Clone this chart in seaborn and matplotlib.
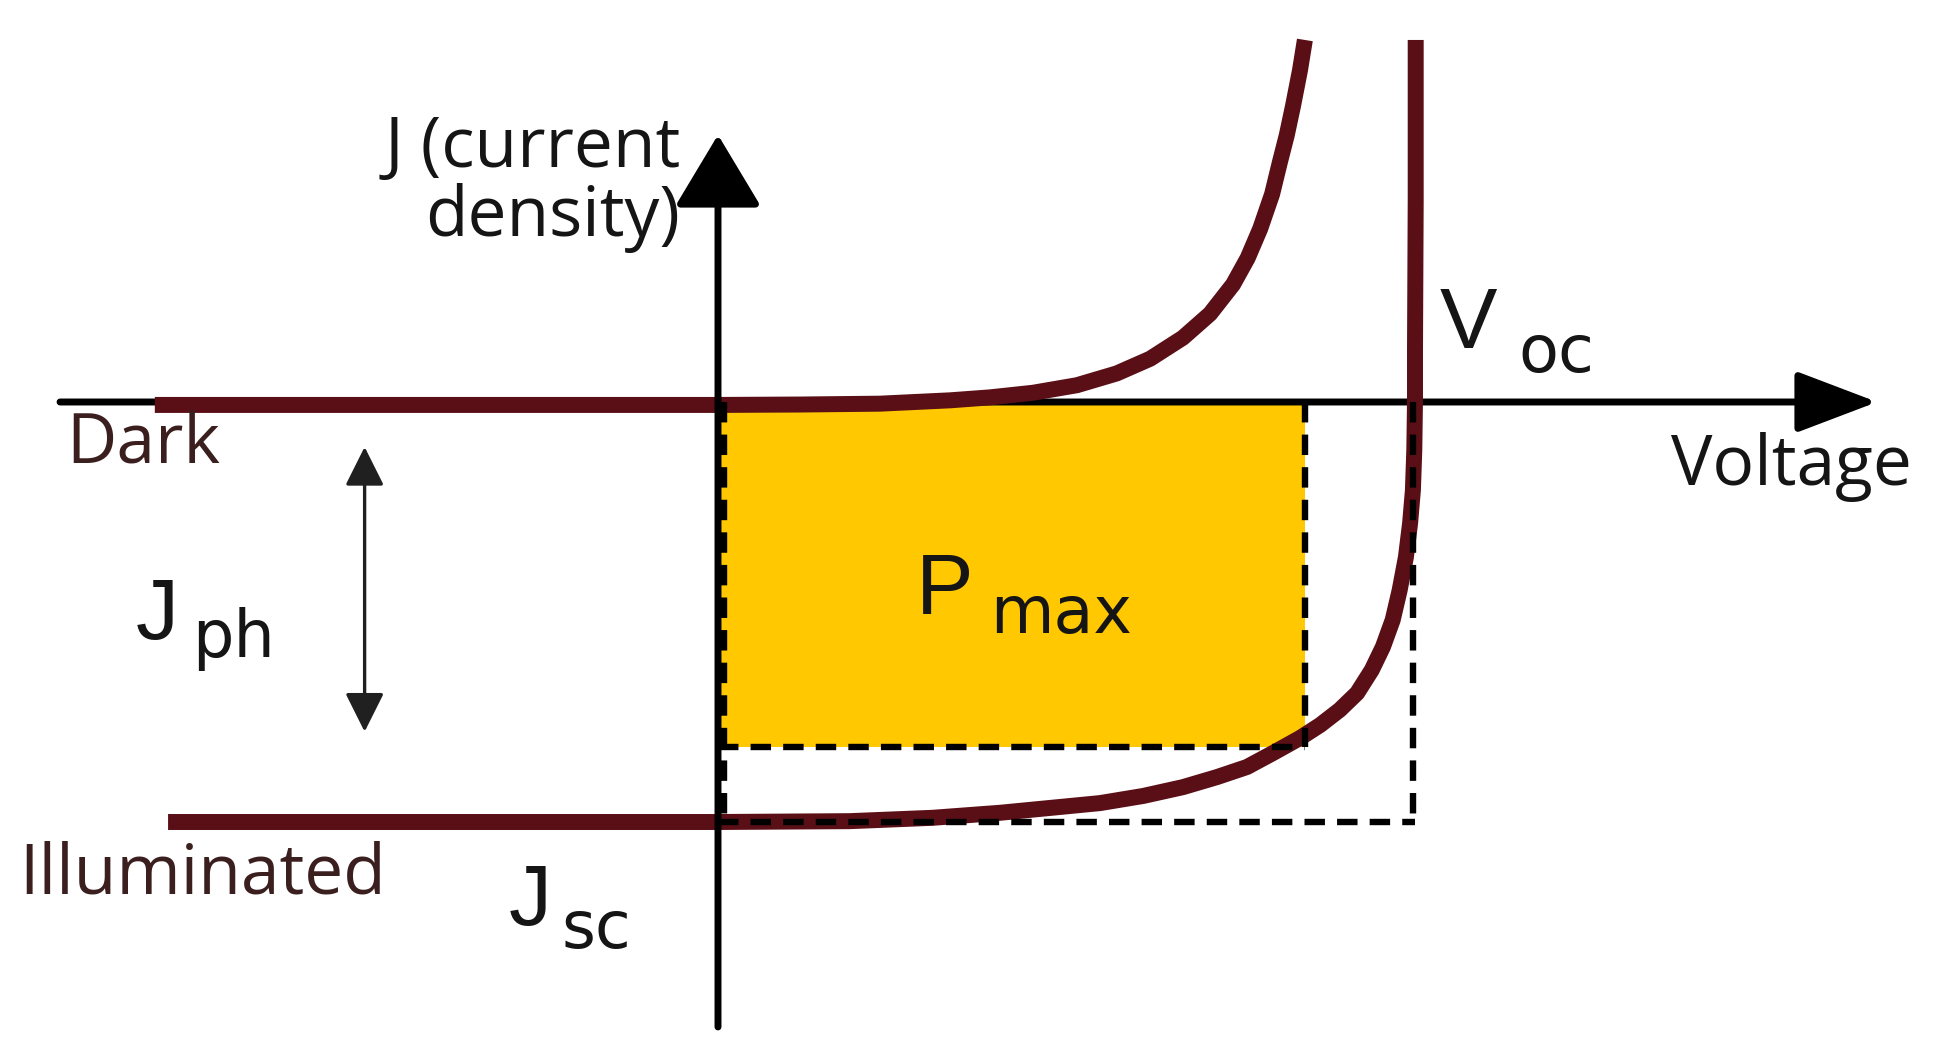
import numpy as np
import pandas as pd
import matplotlib
matplotlib.use("Agg")
import matplotlib.pyplot as plt
import seaborn as sns

# ---------------- data (schematic units: V/Voc, J/|Jsc|) ----------------
dark_v = [-0.808, 0.0, 0.118, 0.232, 0.333, 0.390, 0.452, 0.515, 0.572, 0.620,
          0.667, 0.706, 0.739, 0.760, 0.778, 0.795, 0.806, 0.816, 0.825, 0.835, 0.842]
dark_j = [-0.007, -0.007, -0.006, -0.004, 0.004, 0.011, 0.022, 0.040, 0.068, 0.103,
          0.153, 0.210, 0.280, 0.343, 0.413, 0.495, 0.570, 0.635, 0.705, 0.790, 0.862]

illum_v = [-0.789, 0.0, 0.189, 0.308, 0.405, 0.548, 0.610, 0.667, 0.716, 0.759,
           0.796, 0.835, 0.864, 0.892, 0.917, 0.938, 0.954, 0.968, 0.978, 0.987,
           0.993, 0.997, 0.999, 1.0, 1.0, 1.001, 1.001]
illum_j = [-1.0, -1.0, -0.998, -0.990, -0.978, -0.955, -0.938, -0.917, -0.893, -0.869,
           -0.836, -0.800, -0.769, -0.733, -0.693, -0.638, -0.583, -0.519, -0.448, -0.369,
           -0.288, -0.210, -0.114, 0.005, 0.124, 0.481, 0.862]

v_mp, j_mp = 0.842, -0.821      # maximum power point
v_oc, j_sc = 1.0, -1.0           # open-circuit voltage, short-circuit current

labels = {"dark": "Dark", "illum": "Illuminated", "xlab": "Voltage",
          "ylab": "J (current\ndensity)"}

# ---------------- styling ----------------
sns.set_theme(style="white")
plt.rcParams["font.family"] = ["Open Sans", "DejaVu Sans"]

CURVE = "#5a0f16"
GOLD = "#FFC800"
LABEL_BROWN = "#3b1f1f"
INK = "#151515"

W, H = 1947, 1043
fig = plt.figure(figsize=(W / 100, H / 100), dpi=100)
ax = fig.add_axes([0, 0, 1, 1])
ax.axis("off")

# layout: origin pixel and unit sizes of the schematic
ox, oy, ux, uy = 718.0, 402.0, 697.0, 420.0
ax.set_xlim((0 - ox) / ux, (W - ox) / ux)
ax.set_ylim((oy - H) / uy, (oy - 0) / uy)

# P_max rectangle
ax.fill_between([0, v_mp], [j_mp, j_mp], [0, 0], color=GOLD, lw=0, zorder=1)

# x axis (under curves)
ax.annotate("", xy=(1.663, 0), xytext=(-0.944, 0),
            arrowprops=dict(arrowstyle="-|>,head_length=0.5,head_width=0.19",
                            mutation_scale=100, lw=5.0, color="black",
                            shrinkA=0, shrinkB=0), zorder=2)

# curves
df_dark = pd.DataFrame({"V": dark_v, "J": dark_j})
df_ill = pd.DataFrame({"V": illum_v, "J": illum_j})
CURVE_LW = 11.5
sns.lineplot(data=df_dark, x="V", y="J", sort=False, estimator=None, ax=ax,
             color=CURVE, linewidth=CURVE_LW, solid_capstyle="butt",
             solid_joinstyle="round", zorder=3)
sns.lineplot(data=df_ill, x="V", y="J", sort=False, estimator=None, ax=ax,
             color=CURVE, linewidth=CURVE_LW, solid_capstyle="butt",
             solid_joinstyle="round", zorder=3)
for ln in ax.lines:
    ln.set_linewidth(CURVE_LW)

# dashed guides
dkw = dict(color="black", lw=4.6, ls=(0, (3.2, 1.9)), zorder=4, dash_capstyle="butt")
ax.plot([0, v_mp], [j_mp, j_mp], **dkw)
ax.plot([v_mp, v_mp], [0, j_mp], **dkw)
ax.plot([0, v_oc], [j_sc, j_sc], **dkw)
ax.plot([0.997 * v_oc, 0.997 * v_oc], [0, j_sc], **dkw)
ax.plot([0.008, 0.008], [0, j_sc], **dkw)

# y axis (on top)
ax.annotate("", xy=(0, 0.636), xytext=(0, -1.488),
            arrowprops=dict(arrowstyle="-|>,head_length=0.45,head_width=0.27",
                            mutation_scale=100, lw=5.0, color="black",
                            shrinkA=0, shrinkB=0), zorder=5)

# J_ph double arrow
ax.annotate("", xy=(-0.507, -0.107), xytext=(-0.507, -0.785),
            arrowprops=dict(arrowstyle="<|-|>,head_length=0.6,head_width=0.3",
                            mutation_scale=40, lw=2.4, color="#202020",
                            shrinkA=0, shrinkB=0), zorder=5)

# ---------------- text ----------------
LBL = 50
tkw = dict(va="baseline", zorder=6)
ax.text(-0.054, 0.395, labels["ylab"], ha="right", multialignment="right",
        linespacing=0.98, fontsize=LBL, color=INK, **tkw)
ax.text(-0.935, -0.143, labels["dark"], ha="left", fontsize=LBL, color=LABEL_BROWN, **tkw)
ax.text(-1.003, -1.171, labels["illum"], ha="left", fontsize=LBL, color=LABEL_BROWN, **tkw)
ax.text(1.368, -0.198, labels["xlab"], ha="left", fontsize=LBL, color=INK, **tkw)

MAINF = ["Liberation Sans", "DejaVu Sans"]
SUBF = ["DejaVu Sans"]
BIG, SUB = 62, 47
def symbol(xm, ym, main, xs, ys, sub):
    ax.text(xm, ym, main, ha="left", fontsize=BIG, family=MAINF, color=INK, **tkw)
    ax.text(xs, ys, sub, ha="left", fontsize=SUB, family=SUBF, color=INK, **tkw)

symbol(1.036, 0.129, "V", 1.148, 0.071, "oc")
symbol(-0.836, -0.565, "J", -0.755, -0.607, "ph")
symbol(-0.300, -1.245, "J", -0.225, -1.300, "sc")
symbol(0.284, -0.505, "P", 0.390, -0.550, "max")

fig.savefig("out.png", dpi=100)
